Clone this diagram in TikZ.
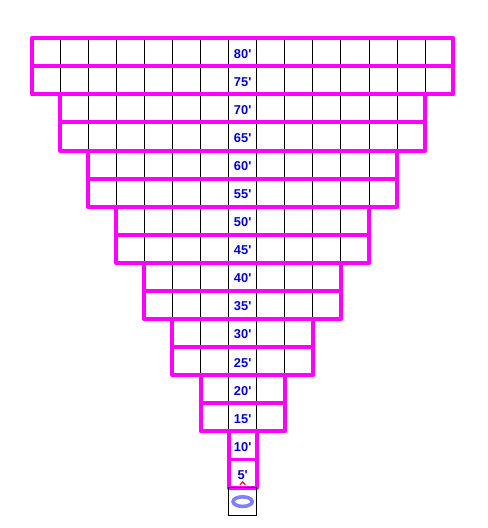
\documentclass[tikz,border=0pt]{standalone}
\usepackage{fontspec}
\setsansfont{Liberation Sans}
\definecolor{boxpink}{RGB}{255,0,255}
\definecolor{depthblue}{RGB}{0,0,205}
\definecolor{ringblue}{RGB}{128,128,255}
\tikzset{
	cellgrid/.style={black, line width=0.5pt},
	rowbox/.style={boxpink, line width=2pt, line join=round},
	depth/.style={depthblue, font=\sffamily\bfseries\fontsize{6.5}{7}\selectfont, inner sep=0pt},
}
\begin{document}
\begin{tikzpicture}[x=0.5cm, y=0.5cm]
	\useasboundingbox (-1.14,1.36) rectangle (16.23,-17.44);
	\foreach \k/\lab in {0/80,1/75,2/70,3/65,4/60,5/55,6/50,7/45,8/40,9/35,10/30,11/25,12/20,13/15,14/10,15/5}
	{
		\pgfmathtruncatemacro{\p}{int(\k/2)}
		\draw[cellgrid, step=0.5cm] (\p,-\k) grid ({15-\p},{-\k-1});
		\node[depth] (d\lab) at (7.5,{-\k-0.55}) {\lab\textquotesingle};
	}
	\foreach \k in {0,...,15}
	{
		\pgfmathtruncatemacro{\p}{int(\k/2)}
		\draw[rowbox] (\p,-\k) rectangle ({15-\p},{-\k-1});
	}
	\draw[cellgrid] (7,-16) rectangle (8,-17);
	\draw[ringblue, line width=1.8pt] (7.5,-16.5) ellipse [x radius=0.34, y radius=0.17];
	\draw[red, line width=0.6pt] (7.4,-15.9) -- (7.5,-15.8) -- (7.6,-15.9);
\end{tikzpicture}
\end{document}
